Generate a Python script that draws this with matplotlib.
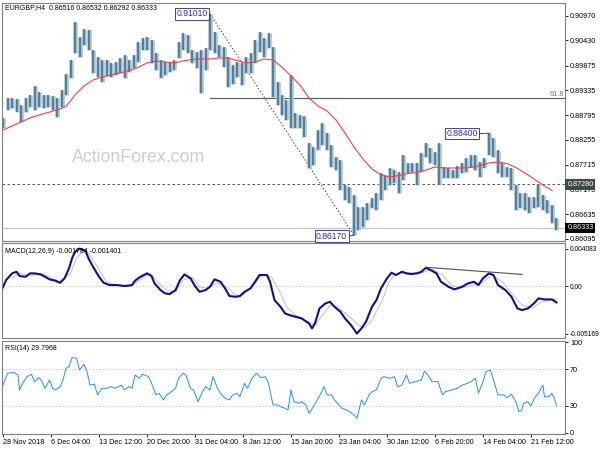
import matplotlib.pyplot as plt
import numpy as np
from matplotlib.axes import Axes
from matplotlib.figure import Figure

plt.rcParams["font.family"] = ["Liberation Sans", "DejaVu Sans"]

symbol: str = "EURGBP,H4"
lastOhlc: list = ["0.86516", "0.86532", "0.86292", "0.86333"]

# one entry = 3 H4 bars (high / low of the group)
barStep: int = 3
highs: list = [
    0.88734, 0.89171, 0.89171, 0.89149, 0.89018, 0.89171, 0.89236, 0.89433, 0.89302, 0.89236,
    0.89236, 0.89214, 0.89171, 0.89346, 0.89695, 0.90001, 0.90832, 0.90504, 0.90679, 0.90657,
    0.90220, 0.90067, 0.90001, 0.90001, 0.89936, 0.89958, 0.90045, 0.90111, 0.90001, 0.90111,
    0.90395, 0.90482, 0.90504, 0.90439, 0.90154, 0.90001, 0.89958, 0.89958, 0.90001, 0.90395,
    0.90592, 0.90548, 0.90220, 0.90176, 0.90220, 0.90264, 0.91010, 0.90613, 0.90329, 0.90286,
    0.90067, 0.89892, 0.89958, 0.89936, 0.90067, 0.90154, 0.90439, 0.90613, 0.90482, 0.90592,
    0.90286, 0.89520, 0.89236, 0.89127, 0.89673, 0.88843, 0.88799, 0.88777, 0.88187, 0.88100,
    0.88471, 0.88624, 0.88406, 0.88143, 0.87881, 0.87815, 0.87269, 0.87225, 0.87050, 0.86788,
    0.86788, 0.86875, 0.86985, 0.87094, 0.87531, 0.87487, 0.87641, 0.87597, 0.87553, 0.87925,
    0.87750, 0.87750, 0.87750, 0.87968, 0.88187, 0.88078, 0.87990, 0.88187, 0.87662, 0.87641,
    0.87597, 0.87684, 0.87750, 0.87859, 0.87925, 0.87925, 0.87772, 0.87859, 0.88400, 0.88296,
    0.88034, 0.87750, 0.87662, 0.87641, 0.87269, 0.87094, 0.87094, 0.87007, 0.87007, 0.87280,
    0.87050, 0.86941, 0.86832, 0.86548,
]
lows: list = [
    0.88515, 0.88908, 0.88952, 0.88865, 0.88646, 0.88865, 0.88974, 0.88908, 0.88974, 0.88952,
    0.88974, 0.88908, 0.88755, 0.88974, 0.89236, 0.89608, 0.90154, 0.90067, 0.90329, 0.90220,
    0.89717, 0.89630, 0.89520, 0.89652, 0.89630, 0.89673, 0.89717, 0.89608, 0.89739, 0.89827,
    0.89958, 0.90220, 0.90220, 0.89936, 0.89783, 0.89608, 0.89673, 0.89739, 0.89783, 0.90045,
    0.90220, 0.90154, 0.89936, 0.89827, 0.89280, 0.89783, 0.90220, 0.90154, 0.90067, 0.89848,
    0.89411, 0.89477, 0.89630, 0.89455, 0.89717, 0.89717, 0.89936, 0.90176, 0.90067, 0.90264,
    0.89193, 0.89018, 0.88799, 0.88690, 0.88515, 0.88515, 0.88515, 0.88318, 0.87641, 0.87706,
    0.88034, 0.88143, 0.88034, 0.87662, 0.87597, 0.87160, 0.86941, 0.86875, 0.86170, 0.86285,
    0.86351, 0.86504, 0.86766, 0.86722, 0.86941, 0.87160, 0.87269, 0.87313, 0.87094, 0.87378,
    0.87531, 0.87553, 0.87269, 0.87553, 0.87881, 0.87750, 0.87706, 0.87269, 0.87422, 0.87422,
    0.87422, 0.87422, 0.87531, 0.87553, 0.87662, 0.87597, 0.87444, 0.87641, 0.87925, 0.87881,
    0.87531, 0.87444, 0.87444, 0.87160, 0.86722, 0.86766, 0.86722, 0.86657, 0.86766, 0.86788,
    0.86722, 0.86657, 0.86438, 0.86292,
]

# moving average, every 6 bars
maValues: list = [
    0.88471, 0.88559, 0.88646, 0.88734, 0.88799, 0.88854, 0.88908, 0.88985, 0.89236, 0.89433,
    0.89564, 0.89630, 0.89673, 0.89717, 0.89772, 0.89837, 0.89936, 0.89980, 0.89958, 0.89936,
    0.89980, 0.90012, 0.90023, 0.90023, 0.90045, 0.90045, 0.89990, 0.89936, 0.89958, 0.90023,
    0.90001, 0.89848, 0.89652, 0.89455, 0.89171, 0.88996, 0.88886, 0.88690, 0.88406, 0.88100,
    0.87837, 0.87619, 0.87488, 0.87444, 0.87477, 0.87520, 0.87542, 0.87597, 0.87662, 0.87641,
    0.87641, 0.87641, 0.87651, 0.87695, 0.87750, 0.87772, 0.87739, 0.87651, 0.87531, 0.87400,
    0.87269, 0.87149,
]

macdBars: list = [
    0, 2, 6, 9, 11, 15, 18, 21, 25, 28, 31, 35, 38, 41, 44, 46, 48, 51, 55, 57,
    60, 64, 67, 71, 76, 81, 86, 88, 91, 96, 99, 101, 105, 108, 111, 115, 118, 121, 125, 128,
    131, 135, 138, 141, 145, 148, 151, 155, 158, 161, 165, 168, 171, 176, 178, 181, 185, 188, 191, 195,
    199, 204, 206, 208, 211, 215, 218, 221, 225, 228, 232, 236, 239, 242, 246, 249, 252, 256, 259, 262,
    266, 269, 272, 276, 279, 282, 286, 289, 292, 297, 301, 306, 310, 314, 317, 320, 324, 327, 330, 335,
    339, 343, 346, 350, 354, 357, 361, 366, 369,
]
macdValues: list = [
    -0.00014, 0.00065, 0.00138, 0.00156, 0.00109, 0.00101, 0.00138, 0.00138, 0.00127, 0.00101,
    0.00073, 0.00058, 0.00036, 0.00084, 0.00193, 0.00301, 0.00373, 0.00408, 0.00384, 0.00301,
    0.00210, 0.00101, 0.00036, 0.00011, 0.00011, 0.00000, 0.00011, 0.00058, 0.00095, 0.00138,
    0.00109, 0.00029, -0.00044, -0.00079, -0.00087, -0.00044, 0.00065, 0.00127, 0.00084, 0.00000,
    -0.00062, -0.00044, -0.00008, 0.00073, 0.00047, -0.00025, -0.00109, -0.00116, -0.00109, -0.00062,
    -0.00025, 0.00047, 0.00120, 0.00120, 0.00047, -0.00152, -0.00225, -0.00297, -0.00316, -0.00334,
    -0.00351, -0.00406, -0.00460, -0.00406, -0.00243, -0.00188, -0.00171, -0.00225, -0.00280, -0.00351,
    -0.00424, -0.00517, -0.00460, -0.00388, -0.00225, -0.00152, -0.00025, 0.00084, 0.00145, 0.00120,
    0.00156, 0.00138, 0.00131, 0.00138, 0.00156, 0.00199, 0.00166, 0.00138, 0.00047, -0.00008,
    -0.00036, -0.00008, 0.00029, 0.00047, 0.00011, 0.00084, 0.00138, 0.00120, 0.00011, -0.00044,
    -0.00116, -0.00243, -0.00261, -0.00243, -0.00188, -0.00134, -0.00145, -0.00145, -0.00178,
]
signalBars: list = [
    6, 11, 18, 25, 31, 38, 45, 49, 53, 57, 60, 65, 69, 76, 85, 91, 98, 103, 109, 115,
    120, 126, 131, 136, 143, 149, 155, 160, 167, 173, 179, 185, 189, 195, 201, 208, 213, 218, 223, 230,
    237, 241, 246, 253, 257, 261, 266, 273, 279, 286, 293, 299, 306, 313, 319, 326, 333, 339, 346, 353,
    359, 366, 369,
]
signalValues: list = [
    0.00087, 0.00141, 0.00109, 0.00141, 0.00098, 0.00044, 0.00141, 0.00305, 0.00370, 0.00359,
    0.00283, 0.00152, 0.00044, 0.00011, 0.00000, 0.00065, 0.00141, 0.00044, -0.00044, -0.00065,
    0.00065, 0.00098, -0.00011, -0.00022, 0.00033, -0.00011, -0.00098, -0.00098, 0.00011, 0.00120,
    0.00098, -0.00076, -0.00228, -0.00316, -0.00370, -0.00424, -0.00316, -0.00207, -0.00228, -0.00316,
    -0.00424, -0.00457, -0.00370, -0.00152, 0.00033, 0.00120, 0.00141, 0.00141, 0.00141, 0.00185,
    0.00120, 0.00011, -0.00022, 0.00011, 0.00033, 0.00120, 0.00044, -0.00076, -0.00207, -0.00239,
    -0.00174, -0.00152, -0.00140,
]

rsiBars: list = [
    0, 3, 7, 10, 11, 13, 16, 19, 21, 24, 26, 28, 31, 33, 35, 38, 40, 42, 44, 46,
    49, 51, 54, 56, 58, 61, 63, 66, 69, 72, 75, 79, 81, 84, 86, 88, 91, 93, 97, 99,
    102, 104, 107, 109, 111, 115, 117, 120, 122, 125, 127, 130, 133, 135, 138, 140, 143, 145, 148, 151,
    153, 156, 158, 161, 163, 166, 169, 172, 175, 177, 180, 183, 185, 188, 190, 192, 194, 197, 199, 202,
    204, 207, 210, 212, 214, 216, 219, 221, 224, 226, 229, 231, 234, 236, 239, 241, 244, 246, 249, 252,
    254, 258, 261, 263, 266, 269, 271, 275, 279, 281, 284, 286, 290, 293, 295, 299, 303, 306, 308, 312,
    315, 317, 320, 322, 325, 327, 330, 334, 336, 339, 342, 344, 346, 347, 350, 352, 355, 357, 360, 361,
    364, 366, 368, 369,
]
rsiValues: list = [
    52.7, 65.6, 66.7, 63.7, 47.0, 54.6, 61.9, 64.5, 56.4, 60.8, 56.4, 49.1, 58.2, 49.1, 47.3, 50.9,
    58.2, 71.1, 72.9, 82.8, 82.1, 69.2, 75.5, 67.4, 52.7, 53.5, 41.8, 49.1, 49.1, 50.9, 49.1, 52.7,
    47.3, 50.9, 49.1, 63.7, 60.1, 64.5, 61.9, 54.6, 41.8, 43.6, 36.3, 41.8, 43.6, 49.1, 60.1, 65.6,
    63.7, 49.1, 47.3, 34.4, 45.4, 50.9, 47.3, 61.9, 49.1, 43.6, 38.1, 36.3, 41.8, 43.6, 39.9, 54.6,
    49.1, 60.1, 65.6, 60.8, 61.9, 54.6, 30.8, 30.8, 28.9, 27.1, 25.3, 47.3, 34.4, 32.6, 34.4, 30.8,
    21.6, 28.9, 38.1, 43.6, 50.9, 41.8, 41.8, 36.3, 30.8, 27.1, 25.3, 23.4, 19.8, 16.2, 36.3, 30.8,
    41.8, 45.4, 47.3, 60.1, 61.9, 60.1, 61.9, 50.9, 52.7, 63.7, 54.6, 56.4, 58.2, 68.1, 61.9, 56.4,
    56.4, 41.8, 45.4, 47.3, 49.1, 52.7, 53.5, 56.4, 60.1, 43.6, 56.4, 67.4, 69.2, 58.2, 41.8, 41.8,
    38.8, 42.5, 34.4, 23.4, 25.3, 32.6, 34.4, 30.0, 39.9, 43.6, 52.7, 39.9, 39.9, 43.6, 36.3, 29.8,
]

priceTicks: list = [0.90970, 0.90430, 0.89875, 0.89335, 0.88795, 0.88255, 0.87715, 0.87175, 0.86635, 0.86095]
macdTicks: list = [0.004083, 0.0, -0.005169]
macdTickLabels: list = ["0.004083", "0.00", "-0.005169"]
rsiTicks: list = [100, 70, 30, 0]
dateBars: list = [0, 32, 64, 96, 128, 160, 192, 224, 256, 288, 320, 352]
dateLabels: list = [
    "28 Nov 2018", "6 Dec 04:00", "13 Dec 12:00", "20 Dec 20:00", "31 Dec 04:00", "8 Jan 12:00",
    "15 Jan 20:00", "23 Jan 04:00", "30 Jan 12:00", "6 Feb 20:00", "14 Feb 04:00", "21 Feb 12:00",
]

swingHigh: tuple = (138, 0.91010)
swingLow: tuple = (234, 0.86170)
midHigh: tuple = (324, 0.88400)
resistance: float = 0.87280
lastClose: float = 0.86333
macdTrend: tuple = ((282, 0.00204), (346, 0.00127))

W, H = 600, 450
FS = 5.2
FRAME = "#7f7f7f"
XMIN, XMAX = -0.7, 374.7


def px(x: float, y: float) -> tuple:
    return x / W, 1 - y / H


def makeAxes(fig: Figure, top: float, bottom: float) -> Axes:
    ax: Axes = fig.add_axes([2 / W, 1 - bottom / H, 563 / W, (bottom - top) / H])
    ax.set_xlim(XMIN, XMAX)
    ax.set_xticks([])
    ax.yaxis.tick_right()
    ax.tick_params(axis="y", length=2.5, width=0.6, pad=1.2, labelsize=FS, colors="black")
    for s in ax.spines.values():
        s.set_color(FRAME)
        s.set_linewidth(0.8)
    return ax


def swingLabel(ax: Axes, point: tuple, textBar: float, textY: float) -> None:
    ax.plot([textBar, point[0]], [textY, point[1]], color="#2020a0", lw=0.6, zorder=4)
    ax.text(textBar, textY, f"{point[1]:.5f}", ha="right", va="center", fontsize=FS + 1.0,
            color="#2a2ab0", zorder=5,
            bbox=dict(boxstyle="square,pad=0.15", facecolor="white", edgecolor="#2020a0", linewidth=0.6))


def main() -> None:
    fig: Figure = plt.figure(figsize=(W / 100, H / 100), dpi=100)

    # price panel
    ax: Axes = makeAxes(fig, 3, 241)
    ax.set_ylim(0.86045, 0.91247)
    bars: np.ndarray = np.arange(len(highs)) * barStep
    ax.vlines(bars, lows, highs, color="#a9c2d2", lw=3.3, zorder=2)
    ax.vlines(bars, lows, highs, color="#3d6b88", lw=1.1, zorder=2)
    maBars: np.ndarray = np.arange(len(maValues)) * 6
    ax.plot(maBars, maValues, color="#ff3b3b", lw=0.8, zorder=3)

    ax.axhline(resistance, color="#3a3a3a", lw=0.6, ls=(0, (3, 3)), zorder=1)
    ax.axhline(lastClose, color="#c4c4c4", lw=0.8, zorder=1)
    fib618: float = swingLow[1] + 0.618 * (swingHigh[1] - swingLow[1])
    ax.plot([swingHigh[0], XMAX], [fib618, fib618], color="#505a5a", lw=0.8, zorder=1)
    ax.text(XMAX - 1, fib618 + 0.0002, "61.8", ha="right", va="bottom", fontsize=FS, color="#6a7a8a")
    ax.plot([swingHigh[0], swingLow[0]], [swingHigh[1], swingLow[1]], color="#404040", lw=0.7,
            ls=(0, (1.5, 2)), zorder=1)

    swingLabel(ax, swingHigh, 136.5, swingHigh[1])
    swingLabel(ax, swingLow, 229.5, 0.86150)
    swingLabel(ax, midHigh, 316.5, 0.88395)

    ax.set_yticks(priceTicks)
    ax.set_yticklabels([f"{t:.5f}" for t in priceTicks])
    yt = ax.get_yaxis_transform()
    ax.text(1.004, resistance, f"{resistance:.5f}", transform=yt, ha="left", va="center", fontsize=FS,
            color="white", bbox=dict(boxstyle="square,pad=0.25", facecolor="#3f4a4a", edgecolor="none"))
    ax.text(1.004, lastClose, f"{lastClose:.5f}", transform=yt, ha="left", va="center", fontsize=FS,
            color="white", bbox=dict(boxstyle="square,pad=0.25", facecolor="black", edgecolor="none"))

    fig.text(*px(5, 8), symbol + "  " + " ".join(lastOhlc), fontsize=5.0, va="center", ha="left")
    fig.text(*px(139, 158), "ActionForex.com", fontsize=12.8, color="#cdcdcd", ha="center", va="center")

    # macd panel
    am: Axes = makeAxes(fig, 243.3, 338.4)
    am.set_ylim(-0.00569, 0.00465)
    am.axhline(0, color="#c8c8c8", lw=0.6, ls=(0, (2, 2)))
    am.plot(signalBars, signalValues, color="#c0c0c0", lw=0.7)
    am.plot(macdBars, macdValues, color="#10108c", lw=1.5)
    am.plot([macdTrend[0][0], macdTrend[1][0]], [macdTrend[0][1], macdTrend[1][1]], color="#505050", lw=0.8)
    am.set_yticks(macdTicks)
    am.set_yticklabels(macdTickLabels)
    am.tick_params(axis="y", labelsize=4.8, pad=0.8)
    fig.text(*px(5, 251), "MACD(12,26,9) -0.001784 -0.001401", fontsize=5.0, va="center", ha="left")

    # rsi panel
    ar: Axes = makeAxes(fig, 341, 433.5)
    ar.set_ylim(-0.6, 101.1)
    for lvl in (70, 30):
        ar.axhline(lvl, color="#c8c8c8", lw=0.6, ls=(0, (2, 2)))
    ar.plot(rsiBars, rsiValues, color="#1e90ff", lw=0.7)
    ar.set_yticks(rsiTicks)
    ar.set_yticklabels([str(t) for t in rsiTicks])
    fig.text(*px(5, 348), "RSI(14) 29.7968", fontsize=5.0, va="center", ha="left")

    ar.set_xticks(dateBars)
    ar.set_xticklabels(dateLabels, ha="left")
    ar.tick_params(axis="x", length=2.5, width=0.6, pad=1.5, labelsize=FS)

    fig.savefig("out.png", dpi=100, facecolor="white")


if __name__ == "__main__":
    main()
